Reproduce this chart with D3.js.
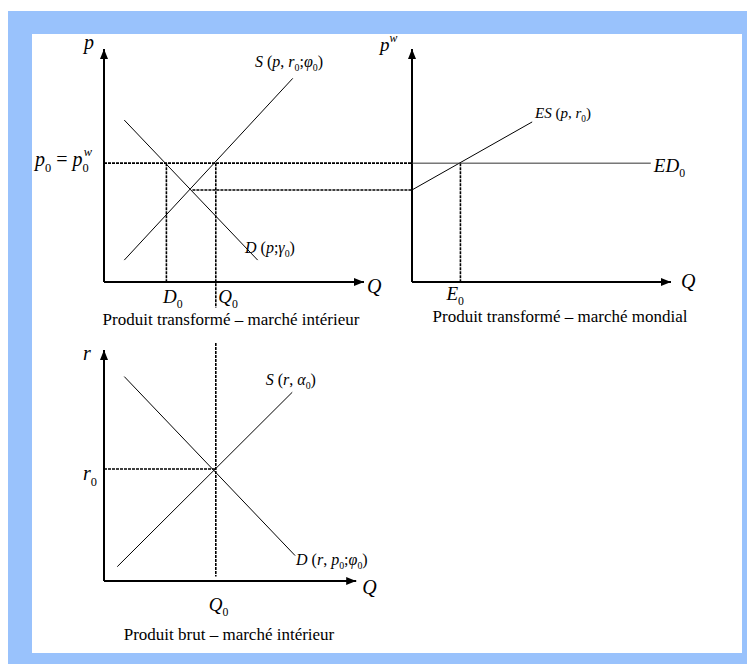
<!DOCTYPE html>
<html>
<head>
<meta charset="utf-8">
<script src="https://cdn.jsdelivr.net/npm/d3@7"></script>
<style>
  body { margin: 0; background: #fff; }
  svg text { font-family: "Liberation Serif", "Times New Roman", serif; fill: #000; }
</style>
</head>
<body>
<svg id="chart" width="747" height="664"></svg>
<script>
// values, in abstract units (0..10)
var p0 = 5.1;            // p0 = p0^w
var pAut = 3.95;         // autarky price (S = D)
var qAut = 3.4;          // where the autarky guide starts
var D0 = 2.4, Q0 = 4.3, E0 = 1.87, r0 = 4.85;
var demandA = [[0.78, 6.95], [5.91, 0.94]];
var supplyA = [[0.78, 0.94], [7.26, 8.74]];
var excessSupply = [[0, 3.95], [4.64, 6.87]];
var edEnd = 9.22;
var demandC = [[0.78, 8.85], [7.35, 1.1]];
var supplyC = [[0.51, 0.62], [7.24, 8.17]];
var q0Span = [-1.1, 10.3, 0.2];   // Q0 line: bottom in A, top and bottom in C
var axisTopA = [10, 10], axisTopB = [10, 10], axisTopC = [9.7, 10];
var subtitles = ["Produit transformé – marché intérieur",
                 "Produit transformé – marché mondial",
                 "Produit brut – marché intérieur"];

var svg = d3.select("#chart");

// frame
svg.append("rect").attr("x", 8).attr("y", 11).attr("width", 739).attr("height", 653).attr("fill", "#99c2fc");
svg.append("rect").attr("x", 32).attr("y", 34).attr("width", 710).attr("height", 619).attr("fill", "#fff");

var xA = d3.scaleLinear().domain([0, 10]).range([104, 364]),
  yA = d3.scaleLinear().domain([0, 10]).range([282, 49]),
  xB = d3.scaleLinear().domain([0, 10]).range([412, 671]),
  yB = yA,
  xC = xA,
  yC = d3.scaleLinear().domain([0, 10]).range([581, 350]);

svg.append("defs").append("marker")
  .attr("id", "arrow")
  .attr("markerUnits", "userSpaceOnUse")
  .attr("viewBox", "0 0 10 8")
  .attr("refX", 10).attr("refY", 4)
  .attr("markerWidth", 10).attr("markerHeight", 8)
  .attr("orient", "auto")
  .append("path").attr("d", "M0,0L10,4L0,8Z").attr("fill", "#000");

var line = d3.line();

function seg(pts, x, y, cls) {
  var p = svg.append("path")
    .attr("d", line(pts.map(function(d) { return [x(d[0]), y(d[1])]; })))
    .attr("fill", "none")
    .attr("stroke", "#000");
  if (cls == "axis") {
    p.attr("stroke-width", 2).attr("marker-end", "url(#arrow)");
  } else if (cls == "guide") {
    guide(p);
  } else {
    p.attr("stroke-width", 1);
  }
  return p;
}

function guide(p) {
  return p.attr("stroke", "#000").attr("stroke-width", 1.6).attr("stroke-dasharray", "3,1");
}

// axes
function axes(x, y, top) {
  seg([[0, 0], [0, top[1]]], x, y, "axis");
  seg([[0, 0], [top[0], 0]], x, y, "axis");
}
axes(xA, yA, axisTopA);
axes(xB, yB, axisTopB);
axes(xC, yC, axisTopC);

// guides, panel A + link to world market
guide(svg.append("path").attr("d", line([[xA(0), yA(p0)], [xB(0), yB(p0)]])));
guide(svg.append("path").attr("d", line([[xA(qAut), yA(pAut)], [xB(0), yB(pAut)]])));
seg([[D0, p0], [D0, 0]], xA, yA, "guide");
seg([[Q0, p0], [Q0, q0Span[0]]], xA, yA, "guide");
seg([[E0, p0], [E0, 0]], xB, yB, "guide");
seg([[Q0, q0Span[1]], [Q0, q0Span[2]]], xC, yC, "guide");
seg([[0, r0], [Q0, r0]], xC, yC, "guide");

// curves
seg(demandA, xA, yA);
seg(supplyA, xA, yA);
seg(excessSupply, xB, yB);
seg([[0, p0], [edEnd, p0]], xB, yB).attr("stroke", "#333");
seg(demandC, xC, yC);
seg(supplyC, xC, yC);

// math labels: i italic, n normal, b subscript, p superscript
function label(x, y, parts, size, anchor) {
  var t = svg.append("text").attr("x", x).attr("y", y)
    .attr("font-size", size).attr("text-anchor", anchor || "start");
  var shift = 0;
  parts.forEach(function(p) {
    var ts = t.append("tspan").text(p[0]);
    var target = 0;
    if (p[1] == "i") ts.attr("font-style", "italic");
    if (p[1] == "b") { target = size * 0.28; ts.attr("font-size", size * 0.62); }
    if (p[1] == "p") { target = -size * 0.5; ts.attr("font-size", size * 0.62).attr("font-style", "italic"); }
    if (target != shift) { ts.attr("dy", target - shift); shift = target; }
    if (p[2]) ts.attr("dx", p[2]);
  });
  return t;
}

label(xA(0) - 15, 49, [["p", "i"]], 20, "middle");
label(35, yA(p0) + 3, [["p", "i"], ["0", "b"], [" = ", "n"], ["p", "i"], ["0", "b"], ["w", "p", -5]], 20);
label(255, 67, [["S", "i"], [" (", "n"], ["p", "i"], [", ", "n"], ["r", "i"], ["0", "b"], [";", "n"], ["φ", "i"], ["0", "b"], [")", "n"]], 16);
label(245, 253, [["D", "i"], [" (", "n"], ["p", "i"], [";", "n"], ["γ", "i"], ["0", "b"], [")", "n"]], 16);
label(xA(D0) - 3.5, 303, [["D", "i"], ["0", "b"]], 19);
label(xA(Q0) + 2.5, 303, [["Q", "i"], ["0", "b"]], 19);
label(xA(axisTopA[0]) + 3, 293, [["Q", "i"]], 20);
label(xB(0) - 32, 51, [["p", "i"], ["w", "p"]], 19);
label(535, 118, [["ES", "i"], [" (", "n"], ["p", "i"], [", ", "n"], ["r", "i"], ["0", "b"], [")", "n"]], 15);
label(xB(edEnd) + 3, yB(p0) + 8.5, [["ED", "i"], ["0", "b"]], 19);
label(xB(E0) - 14, 300, [["E", "i"], ["0", "b"]], 19);
label(xB(axisTopB[0]) + 10, 288, [["Q", "i"]], 20);

label(xC(0) - 17, 360, [["r", "i"]], 20, "middle");
label(83, yC(r0) + 11, [["r", "i"], ["0", "b"]], 20);
label(265.7, 385, [["S", "i"], [" (", "n"], ["r", "i"], [", ", "n"], ["α", "i"], ["0", "b"], [")", "n"]], 16);
label(296, 565, [["D", "i"], [" (", "n"], ["r", "i"], [", ", "n"], ["p", "i"], ["0", "b"], [";", "n"], ["φ", "i"], ["0", "b"], [")", "n"]], 16);
label(xC(Q0) - 7, 611, [["Q", "i"], ["0", "b"]], 19);
label(xC(axisTopC[0]) + 6, 594, [["Q", "i"]], 20);

// panel captions
svg.append("text").attr("x", 231).attr("y", 325).attr("font-size", 17).attr("text-anchor", "middle").text(subtitles[0]);
svg.append("text").attr("x", 560).attr("y", 322).attr("font-size", 17).attr("text-anchor", "middle").text(subtitles[1]);
svg.append("text").attr("x", 229).attr("y", 640).attr("font-size", 17).attr("text-anchor", "middle").text(subtitles[2]);
</script>
</body>
</html>
